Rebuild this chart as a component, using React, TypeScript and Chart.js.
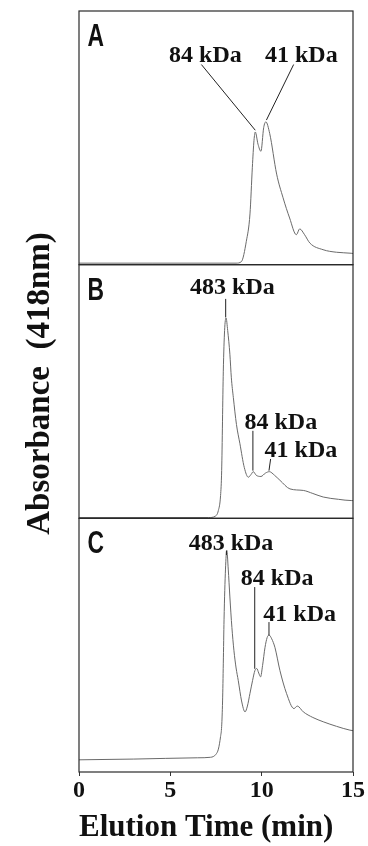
import React, { useEffect, useRef } from 'react';
import { Chart, registerables } from 'chart.js';

Chart.register(...registerables);

// ---- data (elution time in min, absorbance in arbitrary units 0-100 per panel) ----
const timeA = [0, 4, 8.6, 8.89, 9.16, 9.36, 9.49, 9.58, 9.65, 9.8, 9.96, 10.11, 10.23, 10.44, 10.82, 11.17, 11.53, 11.9, 12.08, 12.35, 12.64, 13.36, 14.09, 14.9, 15];
const absA = [0.6, 0.6, 0.6, 1.2, 9.2, 20, 38.4, 49, 52.3, 47.5, 44.7, 54, 56.3, 51.7, 35.7, 26.4, 18.4, 11.8, 14.1, 11.8, 8.5, 5.9, 4.9, 4.5, 4.4];

const timeB = [0, 7.1, 7.45, 7.63, 7.75, 7.81, 7.9, 7.97, 8.05, 8.14, 8.26, 8.34, 8.45, 8.62, 8.81, 9.05, 9.27, 9.42, 9.54, 9.7, 9.96, 10.2, 10.42, 10.7, 11, 11.55, 12.28, 12.8, 13.37, 14.2, 14.93, 15];
const absB = [0.3, 0.3, 0.8, 3.1, 9, 18.8, 58, 74, 79, 74, 64.7, 55.4, 47.6, 37, 29.4, 20, 16.2, 17.3, 18.4, 17, 16.5, 17.8, 18.4, 17, 15, 11.6, 11, 9.8, 8.4, 7.5, 7, 7];

const timeC = [0, 3, 6.5, 7.2, 7.5, 7.63, 7.75, 7.81, 7.86, 7.9, 7.94, 8.02, 8.09, 8.17, 8.26, 8.37, 8.48, 8.6, 8.72, 8.9, 9.09, 9.22, 9.36, 9.5, 9.63, 9.73, 9.84, 9.94, 10.05, 10.18, 10.3, 10.4, 10.55, 10.73, 11, 11.36, 11.77, 11.95, 12.28, 12.8, 13.37, 14.1, 14.83, 15];
const absC = [4.8, 5.1, 5.6, 5.8, 7, 9, 14, 18, 28, 42.9, 60, 80, 87.4, 80, 69, 57, 48, 41, 36, 28, 23.7, 26, 31, 36, 40, 40.8, 39, 37.5, 42, 49, 53, 54, 52.5, 49, 40, 31, 25, 26, 23.7, 21.5, 19.8, 18, 16.5, 16.3];

const xTicks = [0, 5, 10, 15];
const panelLetters = ['A', 'B', 'C'];
const xTitle = 'Elution Time (min)';
const yTitle = 'Absorbance  (418nm)';

// peak labels: text, label anchor (time, abs at baseline), leader line [t0, a0, t1, a1]
const peakTextA = ['84 kDa', '41 kDa'];
const peakAtA = [[6.92, 79.8], [12.17, 79.8]];
const leaderA = [[6.7, 78.9, 9.65, 53], [11.75, 78.9, 10.26, 57]];

const peakTextB = ['483 kDa', '84 kDa', '41 kDa'];
const peakAtB = [[8.4, 88.4], [11.05, 35.2], [12.15, 24]];
const leaderB = [[8.03, 86.5, 8.03, 79.2], [9.52, 34.5, 9.52, 18.8], [10.49, 23.4, 10.4, 18.8]];

const peakTextC = ['483 kDa', '84 kDa', '41 kDa'];
const peakAtC = [[8.32, 87.7], [10.85, 73.6], [12.08, 59.5]];
const leaderC = [[8.07, 87.2, 8.07, 85.5], [9.62, 72.9, 9.62, 40.7], [10.4, 59.1, 10.4, 53.8]];

const SERIF = '"Liberation Serif", "Times New Roman", serif';
const SANS = '"Liberation Sans", Arial, sans-serif';

const toPts = (t: number[], a: number[]) => t.map((x, i) => ({ x, y: a[i] }));

const panels = [
  { id: 'yA', texts: peakTextA, at: peakAtA, leaders: leaderA },
  { id: 'yB', texts: peakTextB, at: peakAtB, leaders: leaderB },
  { id: 'yC', texts: peakTextC, at: peakAtC, leaders: leaderC },
];

const overlay = {
  id: 'overlay',
  afterDraw(chart: any) {
    const ctx = chart.ctx as CanvasRenderingContext2D;
    const xs = chart.scales.x;
    const area = chart.chartArea;
    ctx.save();
    panels.forEach((p, pi) => {
      const ys = chart.scales[p.id];
      // frame
      ctx.strokeStyle = '#2a2a2a';
      ctx.lineWidth = 1.2;
      ctx.strokeRect(area.left, ys.top, area.right - area.left, ys.bottom - ys.top);
      // panel letter
      ctx.fillStyle = '#111';
      ctx.font = `bold 31px ${SANS}`;
      ctx.textAlign = 'left';
      ctx.textBaseline = 'alphabetic';
      ctx.fillText(panelLetters[pi], area.left + 8.5, ys.top + 35, 16.5);
      // leader lines
      ctx.strokeStyle = '#222';
      ctx.lineWidth = 1;
      p.leaders.forEach((l) => {
        ctx.beginPath();
        ctx.moveTo(xs.getPixelForValue(l[0]), ys.getPixelForValue(l[1]));
        ctx.lineTo(xs.getPixelForValue(l[2]), ys.getPixelForValue(l[3]));
        ctx.stroke();
      });
      // peak labels
      ctx.font = `bold 24px ${SERIF}`;
      ctx.textAlign = 'center';
      ctx.textBaseline = 'alphabetic';
      p.texts.forEach((t, i) => {
        ctx.fillText(t, xs.getPixelForValue(p.at[i][0]), ys.getPixelForValue(p.at[i][1]));
      });
    });
    // y title
    ctx.translate(area.left - 39, (area.top + area.bottom) / 2 - 8);
    ctx.rotate(-Math.PI / 2);
    ctx.font = `bold 33px ${SERIF}`;
    ctx.textAlign = 'center';
    ctx.textBaseline = 'middle';
    ctx.fillStyle = '#111';
    ctx.fillText(yTitle, 0, 0);
    ctx.restore();
  },
};

const hiddenY = (weight: number) => ({
  type: 'linear' as const,
  position: 'left' as const,
  stack: 'panels',
  stackWeight: 1,
  weight,
  min: 0,
  max: 100,
  display: true,
  ticks: { display: false },
  grid: { display: false, drawTicks: false, tickLength: 0 },
  border: { display: false },
});

export default function App() {
  const ref = useRef<HTMLCanvasElement | null>(null);
  useEffect(() => {
    if (!ref.current) return;
    const lineStyle = {
      borderColor: '#6a6a6a',
      borderWidth: 1,
      pointRadius: 0,
      cubicInterpolationMode: 'monotone' as const,
      fill: false,
    };
    const chart = new Chart(ref.current, {
      type: 'line',
      data: {
        datasets: [
          { ...lineStyle, label: 'A', data: toPts(timeA, absA), yAxisID: 'yA', xAxisID: 'x' },
          { ...lineStyle, label: 'B', data: toPts(timeB, absB), yAxisID: 'yB', xAxisID: 'x' },
          { ...lineStyle, label: 'C', data: toPts(timeC, absC), yAxisID: 'yC', xAxisID: 'x' },
        ],
      },
      options: {
        animation: false,
        responsive: true,
        maintainAspectRatio: false,
        layout: { padding: { left: 79, right: 15, top: 11, bottom: 1 } },
        plugins: { legend: { display: false }, tooltip: { enabled: false } },
        events: [],
        scales: {
          x: {
            type: 'linear',
            min: 0,
            max: 15,
            afterBuildTicks: (s: any) => {
              s.ticks = xTicks.map((v) => ({ value: v }));
            },
            ticks: {
              color: '#111',
              font: { family: SERIF, size: 24, weight: 'bold' },
              padding: 0,
              maxRotation: 0,
              autoSkip: false,
            },
            grid: { display: true, drawOnChartArea: false, drawTicks: true, tickLength: 4, color: '#333', lineWidth: 1 },
            border: { display: false },
            title: {
              display: true,
              text: xTitle,
              align: 'start',
              color: '#111',
              font: { family: SERIF, size: 31, weight: 'bold' },
              padding: { top: 5, bottom: -2 },
            },
          },
          yA: hiddenY(3),
          yB: hiddenY(2),
          yC: hiddenY(1),
        } as any,
      },
      plugins: [overlay],
    });
    return () => chart.destroy();
  }, []);
  return (
    <div style={{ position: 'absolute', left: 0, top: 0, width: 368, height: 846, background: '#fff' }}>
      <canvas ref={ref} />
    </div>
  );
}
